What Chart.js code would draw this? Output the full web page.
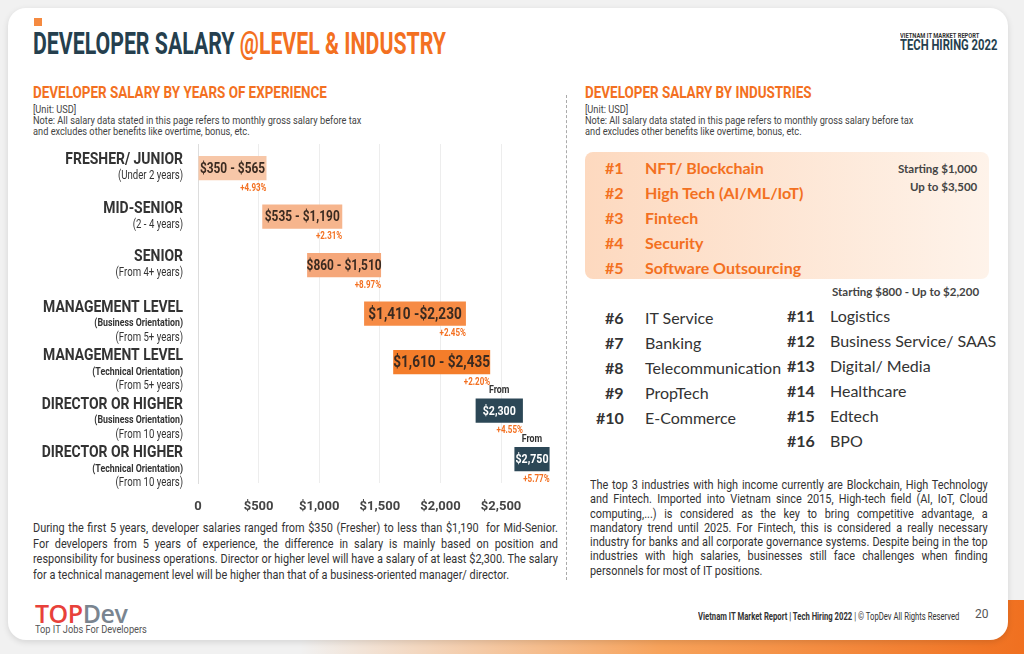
<!DOCTYPE html>
<html><head><meta charset="utf-8">
<script src="https://cdn.jsdelivr.net/npm/chart.js@4"></script>
<style>
body{margin:0;width:1024px;height:654px;background:#f1f1f1;overflow:hidden;font-family:Roboto,sans-serif;position:relative}
#strip{position:absolute;left:300px;right:0;top:600px;height:60px;background:linear-gradient(90deg,rgba(255,255,255,0),#f7a25a 50%,#f07020)}
#card{position:absolute;left:8px;top:8px;width:1000px;height:632px;background:#fff;border-radius:18px;box-shadow:0 2px 6px rgba(0,0,0,.12)}
.abs{position:absolute;white-space:nowrap}
.nar{transform:scaleX(.84);transform-origin:left top}
h1{position:absolute;left:33px;top:24px;margin:0;font-size:32px;font-weight:700;color:#253f4e;transform:scaleX(.665);transform-origin:left;font-family:Roboto}
h1 span{color:#f37021}
.h2{font-size:16px;font-weight:700;color:#f37021}
.note{font-size:11px;color:#444;line-height:11px}
#topbox{position:absolute;left:585px;top:152px;width:404px;height:127px;border-radius:8px;background:linear-gradient(90deg,#fdd9bf,#fef3ea)}
.t5{font-family:Lato,sans-serif;font-weight:700;color:#f37021;font-size:16px}
.ot{font-family:Lato,sans-serif;color:#333;font-size:16px}
.par{font-size:13.3px;color:#333;text-align:justify;white-space:normal;transform:scaleX(.82);transform-origin:left top}
</style></head><body>
<div id="strip"></div>
<div id="card"></div>
<div class="abs" style="left:34px;top:18px;width:8px;height:8px;background:#f58a40"></div>
<h1>DEVELOPER SALARY <span>@LEVEL &amp; INDUSTRY</span></h1>
<div class="abs" style="left:900px;top:31px;font-size:8px;color:#333;font-weight:700;transform:scaleX(.72);transform-origin:left">VIETNAM IT MARKET REPORT</div>
<div class="abs" style="left:900px;top:36px;font-size:15px;color:#253f4e;font-weight:700;transform:scaleX(.75);transform-origin:left">TECH HIRING 2022</div>
<div class="abs h2 nar" style="left:33px;top:83px">DEVELOPER SALARY BY YEARS OF EXPERIENCE</div>
<div class="abs note nar" style="left:33px;top:104px">[Unit: USD]<br>Note: All salary data stated in this page refers to monthly gross salary before tax<br>and excludes other benefits like overtime, bonus, etc.</div>
<div class="abs h2 nar" style="left:585px;top:83px">DEVELOPER SALARY BY INDUSTRIES</div>
<div class="abs note nar" style="left:585px;top:104px">[Unit: USD]<br>Note: All salary data stated in this page refers to monthly gross salary before tax<br>and excludes other benefits like overtime, bonus, etc.</div>
<div class="abs" style="left:566px;top:95px;height:485px;border-left:1px dashed #aaa"></div>
<div id="topbox"></div>
<div id="ind"></div>
<div class="abs" style="left:898px;top:160px;font-family:Lato;font-weight:700;font-size:11.5px;color:#444;text-align:right;line-height:18px">Starting $1,000<br>Up to $3,500</div>
<div class="abs" style="left:832px;top:285px;font-family:Lato;font-weight:700;font-size:11.5px;color:#444">Starting $800 - Up to $2,200</div>
<div class="abs par" style="left:33px;top:520px;width:640px;line-height:15.5px">During the first 5 years, developer salaries ranged from $350 (Fresher) to less than $1,190&nbsp; for Mid-Senior. For developers from 5 years of experience, the difference in salary is mainly based on position and responsibility for business operations. Director or higher level will have a salary of at least $2,300. The salary for a technical management level will be higher than that of a business-oriented manager/ director.</div>
<div class="abs par" style="left:590px;top:478px;width:485px;line-height:14.3px">The top 3 industries with high income currently are Blockchain, High Technology and Fintech. Imported into Vietnam since 2015, High-tech field (AI, IoT, Cloud computing,...) is considered as the key to bring competitive advantage, a mandatory trend until 2025. For Fintech, this is considered a really necessary industry for banks and all corporate governance systems. Despite being in the top industries with high salaries, businesses still face challenges when finding personnels for most of IT positions.</div>
<div class="abs" style="left:35px;top:596px;font-family:'Open Sans';font-size:25px;font-weight:600;color:#e8413a;letter-spacing:-.5px">TOP<span style="color:#7a8590">Dev</span></div>
<div class="abs nar" style="left:35px;top:623px;font-size:11px;color:#555">Top IT Jobs For Developers</div>
<div class="abs" style="left:698px;top:611px;font-size:10px;color:#333;transform:scaleX(.77);transform-origin:left top"><b>Vietnam IT Market Report | Tech Hiring 2022</b> | © TopDev All Rights Reserved</div>
<div class="abs" style="left:975px;top:607px;font-size:12px;color:#555">20</div>
<div class="abs" style="left:0;top:140px"><canvas id="c" width="560" height="391" style="width:560px;height:391px"></canvas></div>
<script>
const levels=["FRESHER/ JUNIOR","MID-SENIOR","SENIOR","MANAGEMENT LEVEL","MANAGEMENT LEVEL","DIRECTOR OR HIGHER","DIRECTOR OR HIGHER"];
const subLines=[["(Under 2 years)"],["(2 - 4 years)"],["(From 4+ years)"],["(Business Orientation)","(From 5+ years)"],["(Technical Orientation)","(From 5+ years)"],["(Business Orientation)","(From 10 years)"],["(Technical Orientation)","(From 10 years)"]];
const barStart=[0,530,900,1370,1610,2290,2610];
const barEnd=[565,1190,1510,2210,2410,2680,2900];
const rangeLabels=["$350 - $565","$535 - $1,190","$860 - $1,510","$1,410 -$2,230","$1,610 - $2,435","$2,300","$2,750"];
const growth=["+4.93%","+2.31%","+8.97%","+2.45%","+2.20%","+4.55%","+5.77%"];
const barColors=["#f7c7a8","#f6b58d","#f5a77a","#f68b45","#f47d2a","#2c4756","#2c4756"];
const topInd=["NFT/ Blockchain","High Tech (AI/ML/IoT)","Fintech","Security","Software Outsourcing"];
const otherA=["IT Service","Banking","Telecommunication","PropTech","E-Commerce"];
const otherB=["Logistics","Business Service/ SAAS","Digital/ Media","Healthcare","Edtech","BPO"];
let h='';
topInd.forEach((t,i)=>{const y=158+i*25;h+=`<div class="abs t5" style="left:605px;top:${y}px">#${i+1}</div><div class="abs t5" style="left:645px;top:${y}px">${t}</div>`});
otherA.forEach((t,i)=>{const y=308+i*25;h+=`<div class="abs ot" style="left:${i<4?605:596}px;top:${y}px;font-weight:700">#${i+6}</div><div class="abs ot" style="left:645px;top:${y}px">${t}</div>`});
otherB.forEach((t,i)=>{const y=306+i*25;h+=`<div class="abs ot" style="left:787px;top:${y}px;font-weight:700">#${i+11}</div><div class="abs ot" style="left:830px;top:${y}px">${t}</div>`});
document.getElementById('ind').innerHTML=h;
const NF='Roboto, sans-serif';
function nt(ctx,t,x,y,sx){ctx.save();ctx.translate(x,y);ctx.scale(sx||0.8,1);ctx.fillText(t,0,0);ctx.restore();}
const deco={id:'deco',afterDatasetsDraw(ch){
 const ctx=ch.ctx,meta=ch.getDatasetMeta(0);
 meta.data.forEach((b,i)=>{
  const l=Math.min(b.x,b.base),r=Math.max(b.x,b.base),cy=b.y,hh=b.height/2;
  ctx.save();
  ctx.textBaseline='middle';ctx.textAlign='center';
  ctx.font='bold '+(i>=3&&i<5?16:(i>=5?12.5:14))+'px '+NF;
  ctx.fillStyle=i>=5?'#fff':'#3a2a20';
  nt(ctx,rangeLabels[i],(l+r)/2,cy+1,0.85);
  ctx.font='bold 10px '+NF;ctx.fillStyle='#f37021';ctx.textAlign='right';
  nt(ctx,growth[i],r,cy+hh+8);
  if(i>=5){ctx.font='bold 11px '+NF;ctx.fillStyle='#333';ctx.textAlign='center';nt(ctx,'From',(l+r)/2,cy-hh-8);}
  ctx.textAlign='right';ctx.fillStyle='#333';
  const ty=cy-(subLines[i].length>1?2:4);
  ctx.font='bold 17px '+NF;nt(ctx,levels[i],183,ty-4,0.82);
  subLines[i].forEach((s,k)=>{ctx.font=(k==0&&subLines[i].length>1?'bold 11px ':'12px ')+NF;nt(ctx,s,183,ty+12+k*14);});
  ctx.restore();
 });
}};
new Chart(document.getElementById('c'),{type:'bar',
 data:{labels:levels.map((l,i)=>l+i),datasets:[{data:barStart.map((s,i)=>[s,barEnd[i]]),backgroundColor:barColors,barPercentage:1,categoryPercentage:0.5}]},
 options:{indexAxis:'y',responsive:false,animation:false,events:[],
  layout:{padding:{left:190,top:4,right:8,bottom:0}},
  plugins:{legend:{display:false},tooltip:{enabled:false}},
  scales:{
   x:{min:0,max:2920,border:{display:false},grid:{color:'#ededed',drawTicks:false},
      afterBuildTicks(s){s.ticks=[0,500,1000,1500,2000,2500].map(v=>({value:v}));},
      ticks:{padding:16,color:'#444',font:{family:NF,size:13,weight:'bold'},callback:v=>v===0?'0':'$'+v.toLocaleString('en-US')}},
   y:{border:{display:true,color:'#ddd'},grid:{display:false},ticks:{display:false}}
  }},
 plugins:[deco]});
</script>
</body></html>
